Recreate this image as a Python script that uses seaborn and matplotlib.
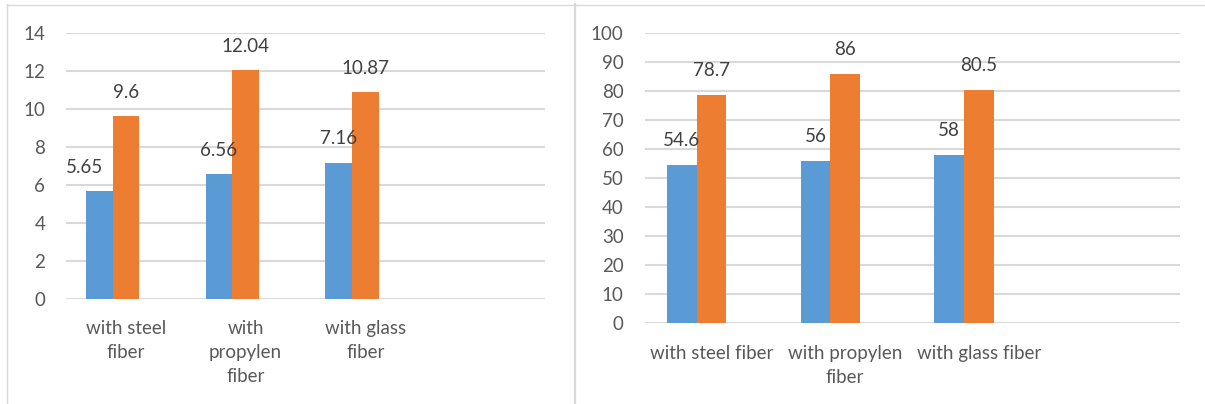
import matplotlib
matplotlib.use("Agg")
import matplotlib.pyplot as plt
from matplotlib.lines import Line2D
import pandas as pd
import seaborn as sns

# Category labels (wrapped as they appear under each chart)
categories_left = ["with steel\nfiber", "with\npropylen\nfiber", "with glass\nfiber"]
categories_right = ["with steel fiber", "with propylen\nfiber", "with glass fiber"]
series_names = ["Series1", "Series2", "Series3"]

# Left chart values
left_series1 = [5.65, 6.56, 7.16]
left_series2 = [9.6, 12.04, 10.87]
left_ticks = [0, 2, 4, 6, 8, 10, 12, 14]

# Right chart values
right_series1 = [54.6, 56, 58]
right_series2 = [78.7, 86, 80.5]
right_ticks = [0, 10, 20, 30, 40, 50, 60, 70, 80, 90, 100]

BLUE = "#5B9BD5"
ORANGE = "#ED7D31"
GREY = "#A5A5A5"
GRID = "#D9D9D9"
TICK_COLOR = "#595959"
LABEL_COLOR = "#404040"
FS = 13.5

sns.set_theme(style="white")
plt.rcParams["font.family"] = ["Lato", "DejaVu Sans"]

W, H, DPI = 1205, 404, 100
fig = plt.figure(figsize=(W / DPI, H / DPI), dpi=DPI)


def px_rect(x0, x1, ytop, ybot):
    return [x0 / W, (H - ybot) / H, (x1 - x0) / W, (ybot - ytop) / H]


ax_left = fig.add_axes(px_rect(66, 545, 33, 298.5))
ax_right = fig.add_axes(px_rect(644.5, 1179.5, 33, 323))


def long_frame(cats, s1, s2):
    rows = []
    for c, a, b in zip(cats, s1, s2):
        rows.append({"cat": c, "series": series_names[0], "value": a})
        rows.append({"cat": c, "series": series_names[1], "value": b})
    return pd.DataFrame(rows)


def draw(ax, cats, s1, s2, ticks, nudges):
    df = long_frame(cats, s1, s2)
    sns.barplot(
        data=df, x="cat", y="value", hue="series", order=cats,
        hue_order=series_names,
        palette={series_names[0]: BLUE, series_names[1]: ORANGE, series_names[2]: GREY},
        width=0.667, linewidth=0, saturation=1, errorbar=None, legend=False, ax=ax,
    )
    ax.set_xlim(-0.5, 3.5)
    ax.set_ylim(ticks[0], ticks[-1])
    ax.set_yticks(ticks)
    ax.set_xlabel("")
    ax.set_ylabel("")
    for s in ax.spines.values():
        s.set_visible(False)
    ax.grid(axis="y", color=GRID, linewidth=1.5)
    ax.grid(axis="x", visible=False)
    ax.set_axisbelow(True)
    ax.tick_params(axis="y", length=0, pad=15, labelsize=FS, labelcolor=TICK_COLOR)
    ax.tick_params(axis="x", length=0, pad=15.5, labelsize=FS, labelcolor=TICK_COLOR)
    for lbl in ax.get_xticklabels():
        lbl.set_linespacing(1.5)
    # value labels above the bars
    for ci, container in enumerate(ax.containers[:2]):
        for bi, bar in enumerate(container):
            h = bar.get_height()
            x = bar.get_x() + bar.get_width() / 2
            dx = nudges.get((ci, bi), 0)
            ax.annotate(f"{h:g}", xy=(x, h), xytext=(dx, 17.3),
                        textcoords="offset points", ha="center", va="center",
                        fontsize=FS, color=LABEL_COLOR)


draw(ax_left, categories_left, left_series1, left_series2, left_ticks, {(0, 0): -10.4})
draw(ax_right, categories_right, right_series1, right_series2, right_ticks, {})

# chart frames
frame_kw = dict(color=GRID, linewidth=1.0, transform=fig.transFigure)
fig.add_artist(Line2D([6.5 / W, 6.5 / W], [0, 1 - 4 / H], **frame_kw))
fig.add_artist(Line2D([6.5 / W, 1], [1 - 4.5 / H, 1 - 4.5 / H], **frame_kw))
fig.add_artist(Line2D([574.5 / W, 574.5 / W], [0, 1 - 4 / H],
                      color=GRID, linewidth=1.6, transform=fig.transFigure))

fig.savefig("out.png", dpi=DPI, facecolor="white")
